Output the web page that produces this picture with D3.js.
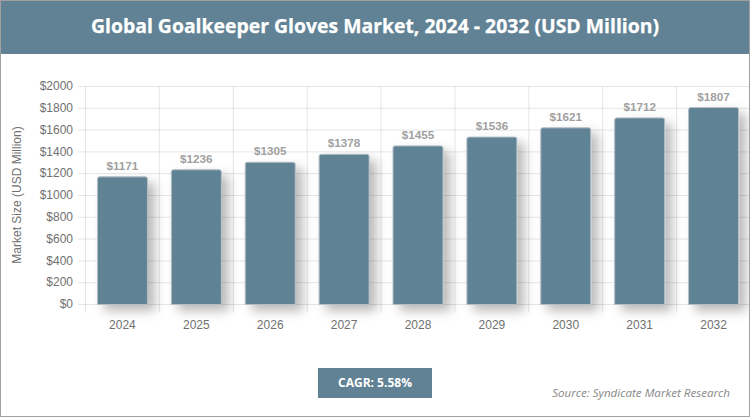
<!DOCTYPE html>
<html lang="en">
<head>
<meta charset="UTF-8">
<title>Global Goalkeeper Gloves Market</title>
<script src="https://d3js.org/d3.v7.min.js"></script>
<style>
  html, body { margin: 0; padding: 0; background: #fff; overflow: hidden; }
  text { font-family: "Liberation Sans", Arial, sans-serif; }
</style>
</head>
<body>
<svg id="chart"></svg>
<script>
const years = ["2024", "2025", "2026", "2027", "2028", "2029", "2030", "2031", "2032"];
const values = [1171, 1236, 1305, 1378, 1455, 1536, 1621, 1712, 1807];
const yTicks = [0, 200, 400, 600, 800, 1000, 1200, 1400, 1600, 1800, 2000];
const chartTitle = "Global Goalkeeper Gloves Market, 2024 - 2032 (USD Million)";
const yLabel = "Market Size (USD Million)";
const cagrText = "CAGR: 5.58%";
const sourceText = "Source: Syndicate Market Research";

const width = 750, height = 417;
const steel = "#618295";
const headFont = "'Open Sans', sans-serif";

const svg = d3.select("#chart").attr("width", width).attr("height", height)
    .style("display", "block");

// bar shadow
const filter = svg.append("defs").append("filter").attr("id", "barShadow")
    .attr("x", "-40%").attr("y", "-15%").attr("width", "190%").attr("height", "135%");
filter.append("feDropShadow").attr("dx", 7).attr("dy", 6).attr("stdDeviation", 5.5)
    .attr("flood-color", "#000").attr("flood-opacity", 0.27);

const x = d3.scaleBand().domain(years).range([85.5, 750.5]);
const y = d3.scaleLinear().domain([0, 2000]).range([304.5, 86.5]);
const barWidth = 50;

// header
svg.append("rect").attr("x", 1).attr("y", 1).attr("width", width - 2).attr("height", 53).attr("fill", steel);
svg.append("text").attr("x", 375).attr("y", 33).attr("text-anchor", "middle")
    .style("font-family", headFont).style("font-weight", 700).style("font-size", "19.4px")
    .attr("fill", "#fff").attr("stroke", "#fff").attr("stroke-width", 0.25).text(chartTitle);

// grid
const grid = svg.append("g").attr("fill", "none").attr("stroke", "#000").attr("stroke-opacity", 0.1);
grid.selectAll("line.h").data(yTicks).join("line").attr("class", "h")
    .attr("x1", 78).attr("x2", 750).attr("y1", d => y(d)).attr("y2", d => y(d));
grid.selectAll("line.v").data(years).join("line").attr("class", "v")
    .attr("x1", d => x(d)).attr("x2", d => x(d)).attr("y1", y(2000)).attr("y2", y(0) + 8);

// axes labels
svg.append("g").selectAll("text").data(yTicks).join("text")
    .attr("x", 73).attr("y", d => y(d) - 0.5).attr("dy", "0.35em").attr("text-anchor", "end")
    .attr("fill", "#707070").style("font-size", "12px").text(d => "$" + d);
svg.append("g").selectAll("text").data(years).join("text")
    .attr("x", d => x(d) + x.bandwidth() / 2).attr("y", 329).attr("text-anchor", "middle")
    .attr("fill", "#707070").style("font-size", "12px").text(d => d);
svg.append("text").attr("transform", "translate(21,195) rotate(-90)").attr("text-anchor", "middle")
    .attr("fill", "#707070").style("font-size", "12px").text(yLabel);

// bars, rounded at the top only
const barPath = (d, i) => {
  const x0 = x(years[i]) + (x.bandwidth() - barWidth) / 2, x1 = x0 + barWidth;
  const top = y(d), base = y(0), r = 2;
  return `M${x0},${base}V${top + r}Q${x0},${top} ${x0 + r},${top}H${x1 - r}Q${x1},${top} ${x1},${top + r}V${base}Z`;
};
svg.append("g").selectAll("path").data(values).join("path")
    .attr("d", barPath).attr("fill", steel).attr("stroke", "#b4bec5").attr("stroke-width", 1)
    .attr("filter", "url(#barShadow)");

// value labels
svg.append("g").selectAll("text").data(values).join("text")
    .attr("x", (d, i) => x(years[i]) + x.bandwidth() / 2).attr("y", d => y(d) - 7)
    .attr("text-anchor", "middle").attr("fill", "#a0a0a0").style("font-size", "11.7px").style("font-weight", 700)
    .text(d => "$" + d);

// cagr box
svg.append("rect").attr("x", 318).attr("y", 368).attr("width", 114).attr("height", 30).attr("fill", steel);
svg.append("text").attr("x", 375).attr("y", 386.5).attr("text-anchor", "middle")
    .style("font-family", headFont).style("font-weight", 700).style("font-size", "12px")
    .attr("fill", "#fff").text(cagrText);

// source
svg.append("text").attr("x", 730).attr("y", 397).attr("text-anchor", "end")
    .style("font-family", headFont).style("font-style", "italic").style("font-size", "11.6px")
    .attr("fill", "#888").text(sourceText);

// outer border
svg.append("rect").attr("x", 0.5).attr("y", 0.5).attr("width", width - 1).attr("height", height - 1)
    .attr("fill", "none").attr("stroke", "#a0a0a0").attr("stroke-width", 1);
</script>
</body>
</html>
